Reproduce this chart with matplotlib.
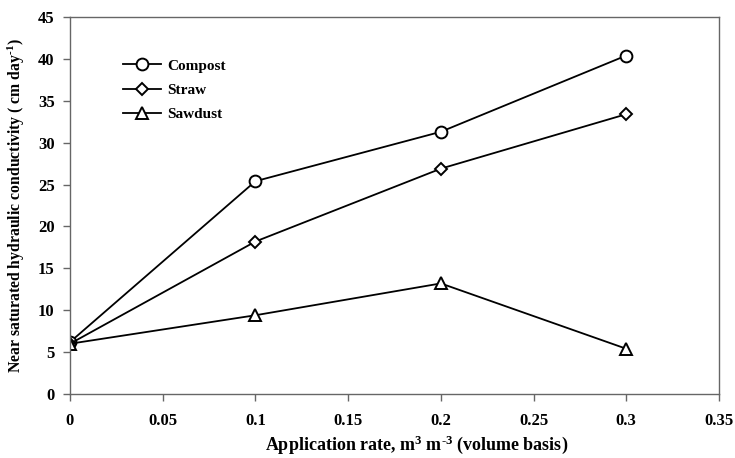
import matplotlib.pyplot as plt

rate = [0, 0.1, 0.2, 0.3]
compost = [6.2, 25.4, 31.3, 40.4]
straw = [6.0, 18.2, 26.9, 33.4]
sawdust = [6.0, 9.4, 13.2, 5.4]

plt.rcParams['font.family'] = ['Liberation Serif', 'DejaVu Serif']
plt.rcParams['font.weight'] = 'bold'
plt.rcParams['mathtext.fontset'] = 'custom'
plt.rcParams['mathtext.rm'] = 'Liberation Serif:bold'
plt.rcParams['mathtext.default'] = 'rm'

fig = plt.figure(figsize=(7.35, 4.58), dpi=100)
ax = fig.add_axes([70/735, 1 - 394/458, 649/735, 377/458])

style = dict(color='black', linewidth=1.3, markerfacecolor='white',
             markeredgecolor='black', markeredgewidth=1.4)
ax.plot(rate, compost, marker='o', markersize=8.5, label='Compost', **style)
ax.plot(rate, straw, marker='D', markersize=6.5, label='Straw', **style)
ax.plot(rate, sawdust, marker='^', markersize=9, label='Sawdust', **style)

ax.set_xlim(0, 0.35)
ax.set_ylim(0, 45)
ax.set_xticks([0, 0.05, 0.1, 0.15, 0.2, 0.25, 0.3, 0.35])
ax.set_xticklabels(['0', '0.05', '0.1', '0.15', '0.2', '0.25', '0.3', '0.35'])
ax.set_yticks(range(0, 46, 5))

for s in ax.spines.values():
    s.set_color('#666666')
    s.set_linewidth(1.0)
ax.tick_params(direction='out', length=5, width=1.0, color='#666666',
               labelsize=12, pad=6)
ax.tick_params(axis='x', pad=9)

ax.set_xlabel(r'Application rate, m$^3$ m$^{\text{-}3}$ (volume basis)', fontsize=13,
              fontweight='bold', va='center')
ax.xaxis.set_label_coords((417 - 70) / 649, (394 - 445) / 377)
ax.set_ylabel(r'Near saturated hydraulic conductivity ( cm day$^{\text{-}1}$)', fontsize=11.3,
              fontweight='bold', va='center')
ax.yaxis.set_label_coords((16 - 70) / 649, 0.5)

ax.legend(loc='upper left', bbox_to_anchor=(0.06, 0.925), frameon=False,
          handlelength=2.5, labelspacing=0.7, handletextpad=0.4,
          prop={'weight': 'bold', 'size': 11})

fig.savefig('out.png', dpi=100)
